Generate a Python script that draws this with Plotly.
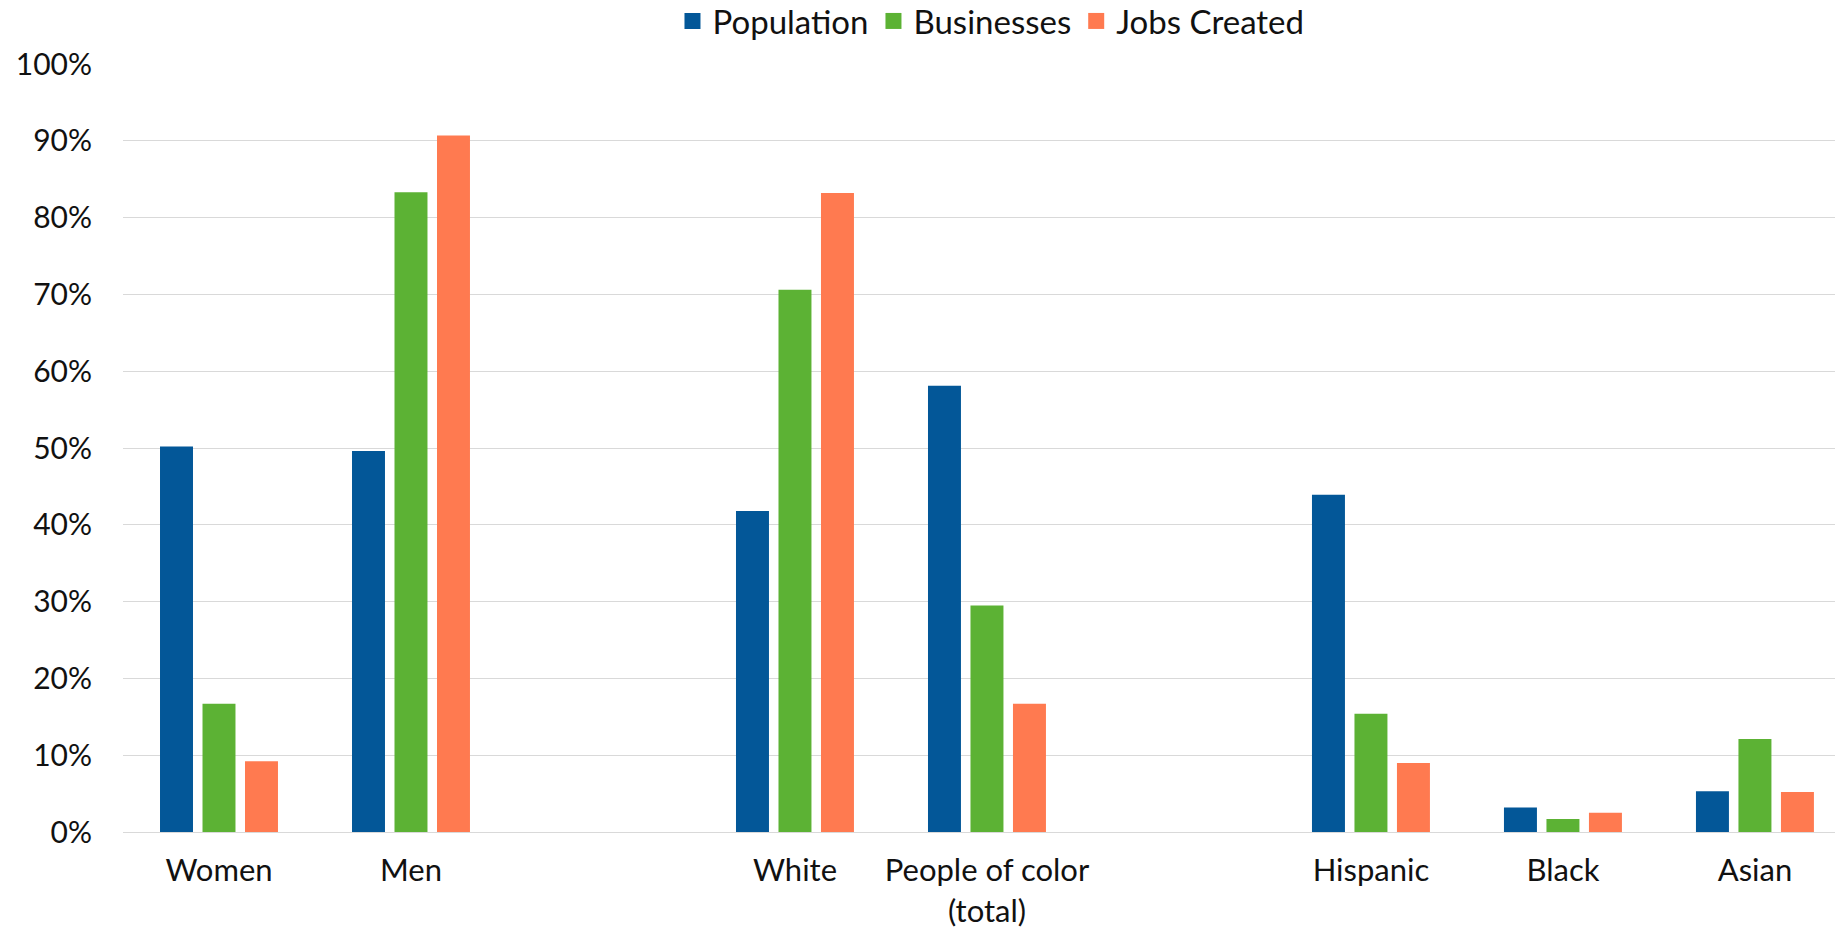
import plotly.graph_objects as go

# Category slots; the blank entries keep the gaps between the three groups
categories = ["Women", "Men", " ", "White", "People of color<br>(total)", "  ",
              "Hispanic", "Black", "Asian"]

population = [0.502, 0.496, None, 0.418, 0.581, None, 0.439, 0.032, 0.053]
businesses = [0.167, 0.833, None, 0.706, 0.295, None, 0.154, 0.017, 0.121]
jobs_created = [0.092, 0.907, None, 0.832, 0.167, None, 0.090, 0.025, 0.052]

series_names = ["Population", "Businesses", "Jobs Created"]
series_colors = ["#035798", "#5CB234", "#FF7A50"]

y_ticks = [0, 0.1, 0.2, 0.3, 0.4, 0.5, 0.6, 0.7, 0.8, 0.9, 1.0]

FONT = "Lato, 'Open Sans', sans-serif"

fig = go.Figure()
for name, vals, color in zip(series_names, [population, businesses, jobs_created], series_colors):
    fig.add_trace(go.Bar(
        x=categories, y=vals, name=name,
        marker=dict(color=color, line=dict(width=0)),
        showlegend=False, hoverinfo="x+y",
    ))
    # larger square swatch for the legend
    fig.add_trace(go.Scatter(
        x=[None], y=[None], mode="markers", name=name,
        marker=dict(symbol="square", size=17, color=color),
        showlegend=True,
    ))

fig.update_layout(
    width=1835, height=928,
    margin=dict(l=123, r=0, t=64, b=96, autoexpand=False),
    paper_bgcolor="white", plot_bgcolor="white",
    font=dict(family=FONT, size=30, color="#111111"),
    barmode="group", bargap=0.336, bargroupgap=0.224,
    legend=dict(
        orientation="h", x=0.507, xanchor="center", y=1.056, yanchor="middle",
        font=dict(size=33), itemclick=False, itemsizing="trace",
        bgcolor="rgba(0,0,0,0)", tracegroupgap=0,
    ),
    xaxis=dict(
        type="category", categoryorder="array", categoryarray=categories,
        range=[-0.5, 8.417], showgrid=False, zeroline=False, showline=False,
        ticks="outside", ticklen=11, tickcolor="rgba(0,0,0,0)",
        tickfont=dict(size=31), fixedrange=True, automargin=False,
    ),
    yaxis=dict(
        range=[0, 1.0], tickvals=y_ticks, tickformat=".0%",
        showgrid=True, gridcolor="#D9D9D9", gridwidth=1.3,
        zeroline=True, zerolinecolor="#D9D9D9", zerolinewidth=1.3,
        showline=False, ticks="outside", ticklen=24, tickcolor="rgba(0,0,0,0)",
        tickfont=dict(size=30), fixedrange=True, automargin=False,
    ),
)

fig.write_html("out.html")
